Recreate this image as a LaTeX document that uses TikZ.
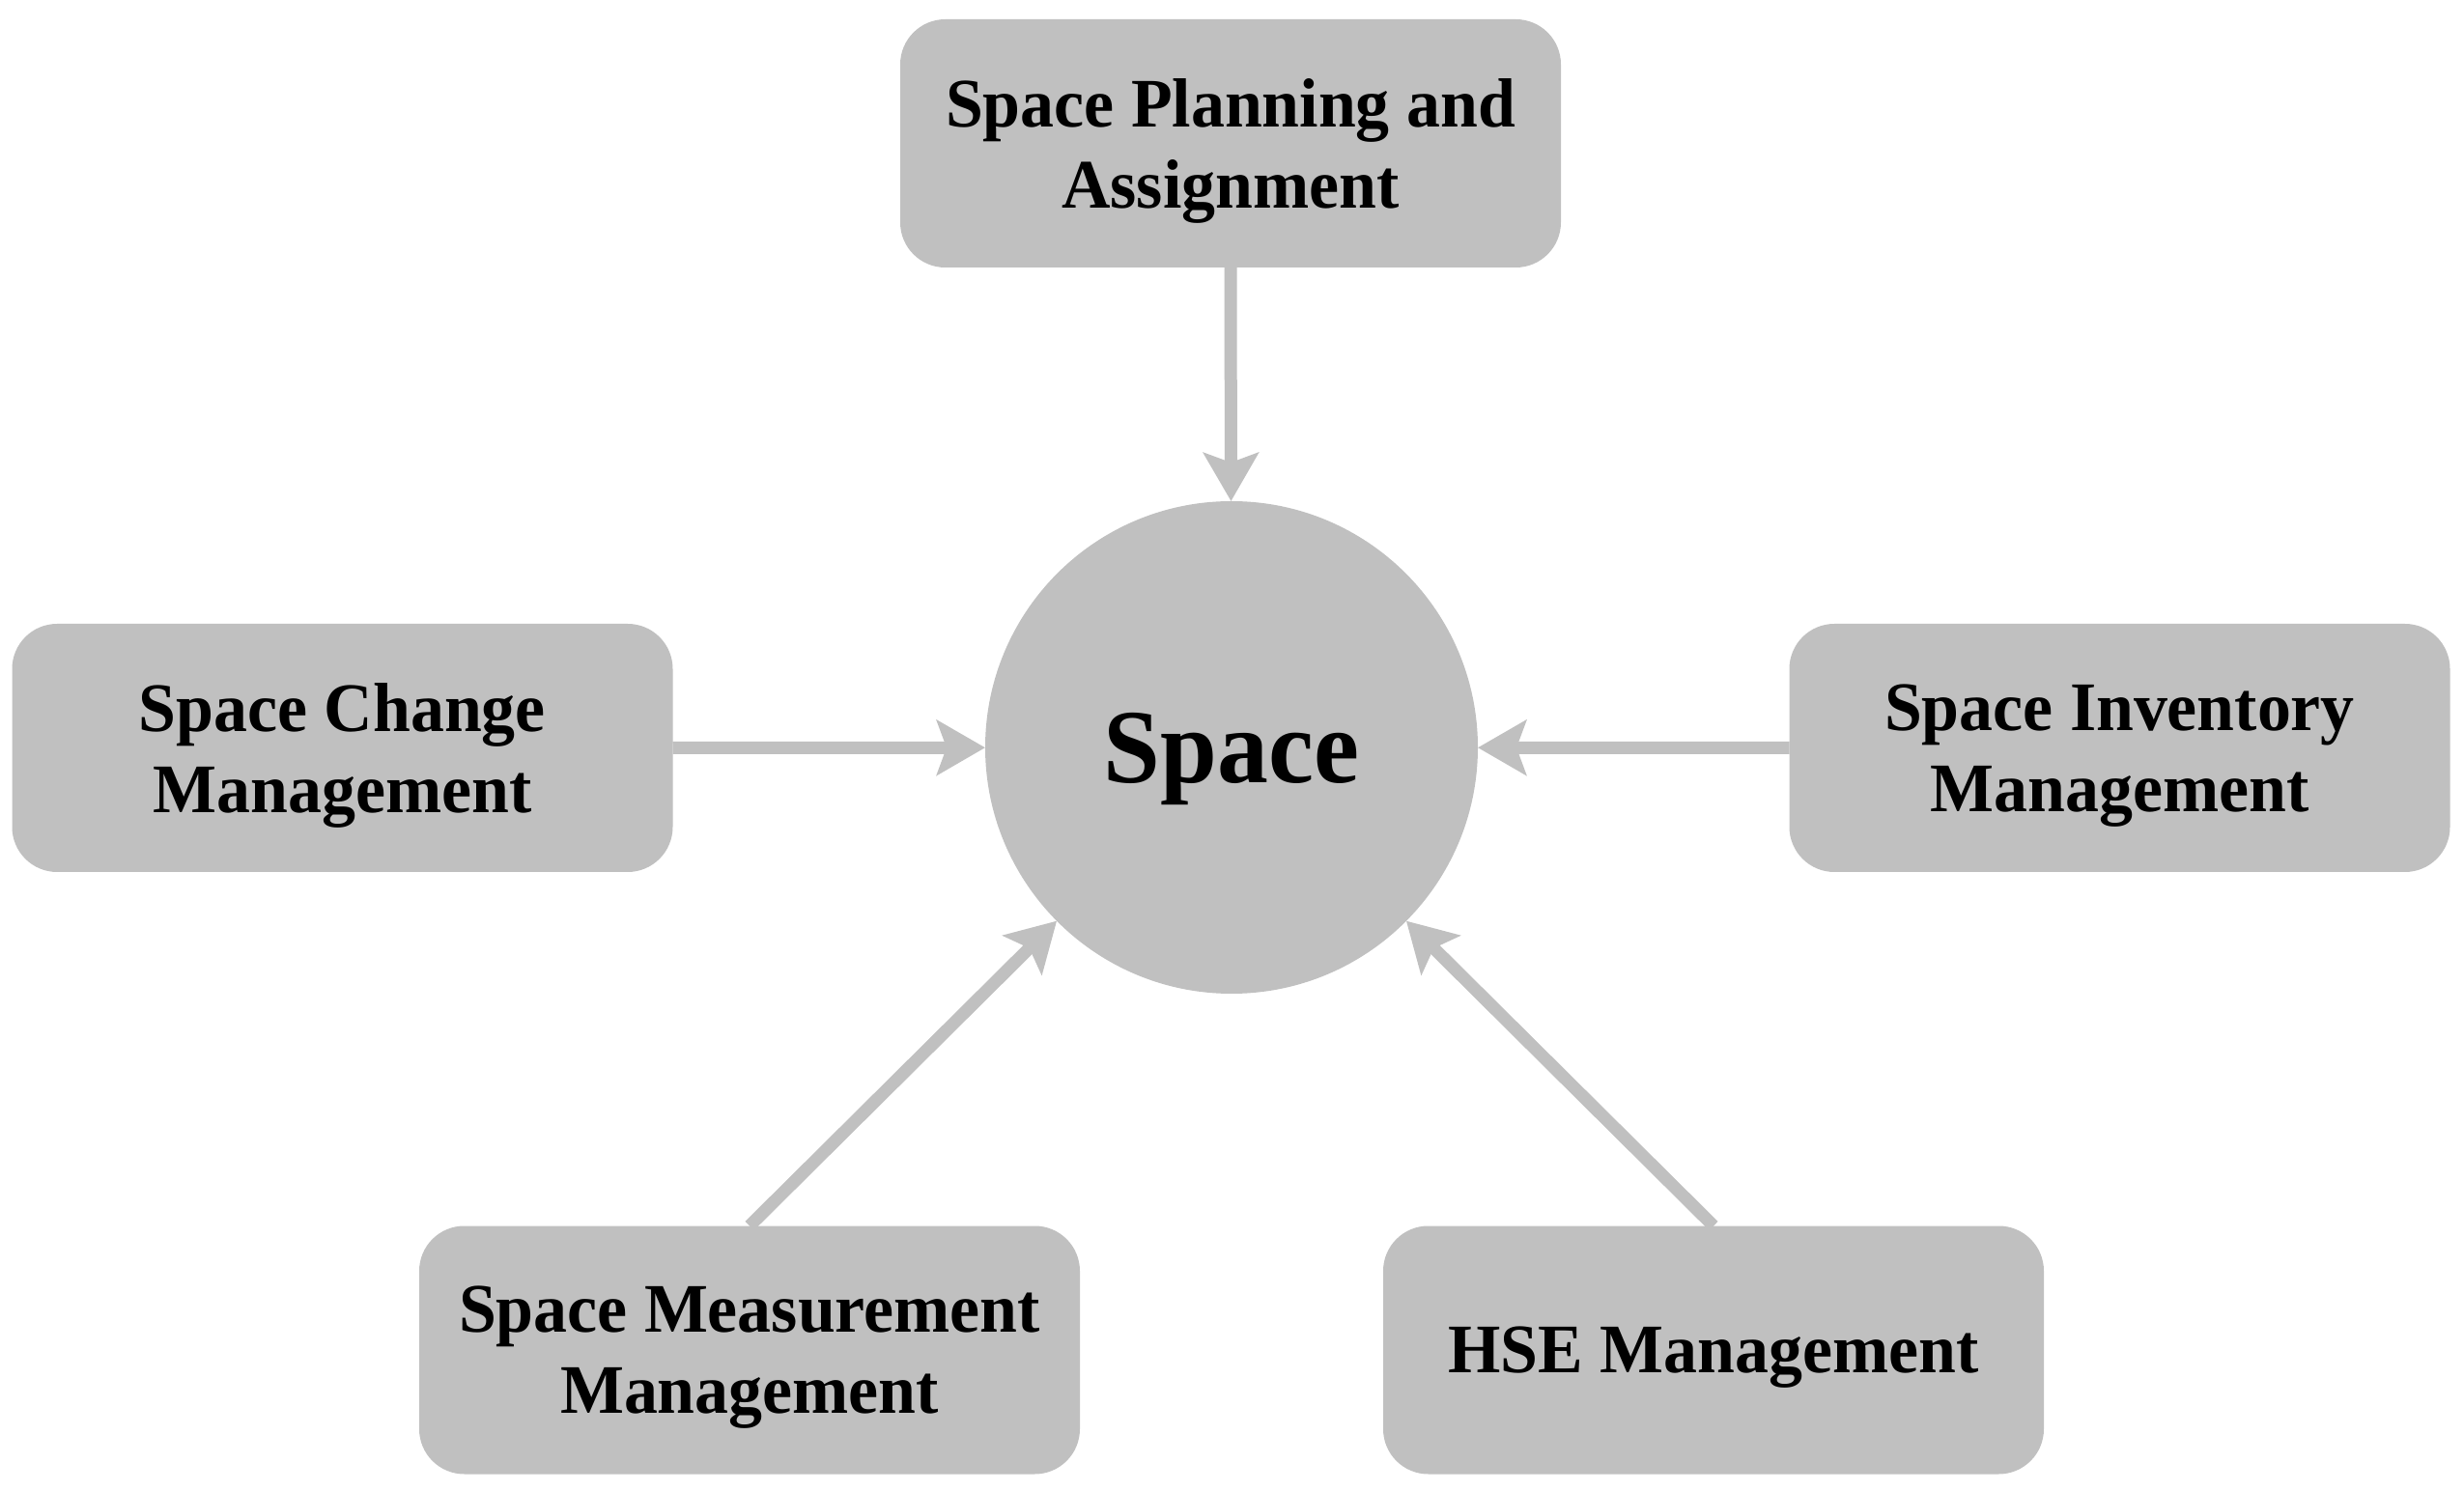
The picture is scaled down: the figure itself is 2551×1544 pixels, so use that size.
\documentclass[tikz,border=0pt]{standalone}
\usepackage{fontspec}
\setmainfont{Liberation Serif}[FakeStretch=0.97]
\usetikzlibrary{arrows.meta}
\definecolor{boxgray}{RGB}{192,192,192}
\tikzset{
  box/.style={fill=boxgray, draw=none, rounded corners=14pt, minimum width=205.2pt, minimum height=77.1pt, inner sep=0pt, outer sep=0pt, align=center, text depth=0pt, font=\fontsize{21.6pt}{25.2pt}\selectfont\bfseries},
  hub/.style={circle, fill=boxgray, draw=none, minimum size=153pt, inner sep=0pt, outer sep=0pt, text depth=0pt, font=\fontsize{32.7pt}{38pt}\selectfont\bfseries},
  link/.style={draw=boxgray, line width=3.9pt, -{Stealth[length=15pt, width=17pt, inset=3pt]}}
}
\begin{document}
\begin{tikzpicture}[x=0.3pt, y=-0.3pt]
\useasboundingbox (0,0) rectangle (2551,1544);
\node[hub] (c) at (1275,774) {Space};
\node[box] (top) at (1274,148.5) {Space Planning and\\Assignment};
\node[box] (lft) at (354.5,774.5) {Space Change\\Management};
\node[box] (rgt) at (2194.5,774.5) {Space Inventory\\Management};
\node[box] (bl) at (776,1398) {Space Measurement\\Management};
\node[box] (br) at (1774,1398) {HSE Management};
\draw[link] (top.south) -- (c);
\draw[link] (lft.east) -- (c);
\draw[link] (rgt.west) -- (c);
\draw[link] (bl.north) -- (c);
\draw[link] (br.north) -- (c);
\end{tikzpicture}
\end{document}
